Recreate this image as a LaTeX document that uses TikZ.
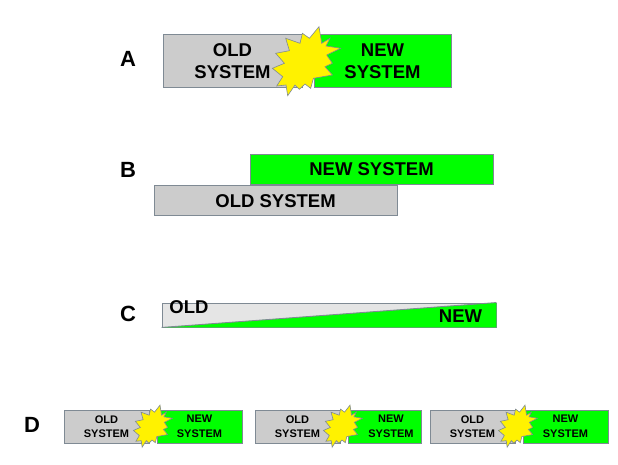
\documentclass[tikz,border=0pt]{standalone}
\usepackage{fontspec}
\setmainfont{Liberation Sans}
\usetikzlibrary{positioning}
\definecolor{newgreen}{HTML}{00FF00}
\definecolor{oldgrey}{HTML}{CCCCCC}
\definecolor{edgegrey}{HTML}{7F8A94}
\tikzset{
  burst/.pic={
    \filldraw[draw=edgegrey,fill=yellow,line width=.6pt] (12.3,-34.3) -- (15,-17.7) -- (23.3,-22.7) -- (19.3,-15) -- (34,-12.7)
      -- (20,-6) -- (25.7,2.3) -- (18.3,5.7) -- (25.7,14) -- (6.7,17.3) -- (4,27.3) -- (-1.7,23) -- (-7.3,28.3)
      -- (-11.7,24) -- (-19,34.7) -- (-20.7,24) -- (-30,25) -- (-24,15.7) -- (-34.3,7.3) -- (-22.3,2.3) -- (-31,-7.7)
      -- (-17.3,-10.3) -- (-21,-22.7) -- (-6.7,-17.7) -- (-4.3,-27.7) -- (2.7,-22.7) -- cycle;
  }
}
\begin{document}
\begin{tikzpicture}[x=1pt,y=-1pt,font=\bfseries\fontsize{18.5}{22}\selectfont,
    box/.style={draw=edgegrey,line width=.9pt,align=center,inner sep=0pt,text=black},
    oldbox/.style={box,fill=oldgrey},
    newbox/.style={box,fill=newgreen},
    tag/.style={font=\bfseries\fontsize{22}{26}\selectfont},
    smallbox/.style={minimum width=85pt,minimum height=33pt,font=\bfseries\fontsize{11}{14.5}\selectfont}]
  \useasboundingbox (0,0) rectangle (618,465);
  % A
  \node[tag] (taga) at (128,59) {A};
  \node[oldbox,minimum width=139pt,minimum height=53pt] (olda) at (232.5,61) {OLD\\SYSTEM};
  \node[newbox,minimum width=137pt,minimum height=53pt] (newa) at (382.5,61) {NEW\\SYSTEM};
  \pic (bursta) at (306.7,61) {burst};
  % B
  \node[tag] (tagb) at (128,170) {B};
  \node[newbox,minimum width=243pt,minimum height=30pt] (newb) at (371.5,169) {NEW SYSTEM};
  \node[oldbox,minimum width=243pt,minimum height=30pt,below left=1pt and -148pt of newb] (oldb) {OLD SYSTEM};
  % C
  \node[tag] (tagc) at (128,314) {C};
  \node[box,fill=black!10,minimum width=334pt,minimum height=24pt] (fade) at (329,315) {};
  \fill[newgreen] (fade.south west) -- (fade.north east) -- (fade.south east) -- cycle;
  \draw[edgegrey,line width=.9pt] (fade.south west) -- (fade.north east);
  \node (oldc) at (189,307) {OLD};
  \node (newc) at (460.5,316) {NEW};
  % D
  \node[tag] (tagd) at (32,425) {D};
  \node[oldbox,smallbox] (oldd) at (106.5,426.5) {OLD\\SYSTEM};
  \node[newbox,smallbox] (newd) at (199.5,426.5) {NEW\\SYSTEM};
  \pic[xscale=.57,yscale=.61] (burstd) at (153,426) {burst};
  \node[oldbox,smallbox] (olde) at (297.5,426.5) {OLD\\SYSTEM};
  \node[newbox,smallbox,minimum width=73pt] (newe) at (384.5,426.5) {};
  \node[smallbox,align=center] (newetext) at (391,426.5) {NEW\\SYSTEM};
  \pic[xscale=.57,yscale=.61] (burste) at (343,426) {burst};
  \node[oldbox,smallbox] (oldf) at (472.5,426.5) {OLD\\SYSTEM};
  \node[newbox,smallbox] (newf) at (565.5,426.5) {NEW\\SYSTEM};
  \pic[xscale=.57,yscale=.61] (burstf) at (518,426) {burst};
\end{tikzpicture}
\end{document}
